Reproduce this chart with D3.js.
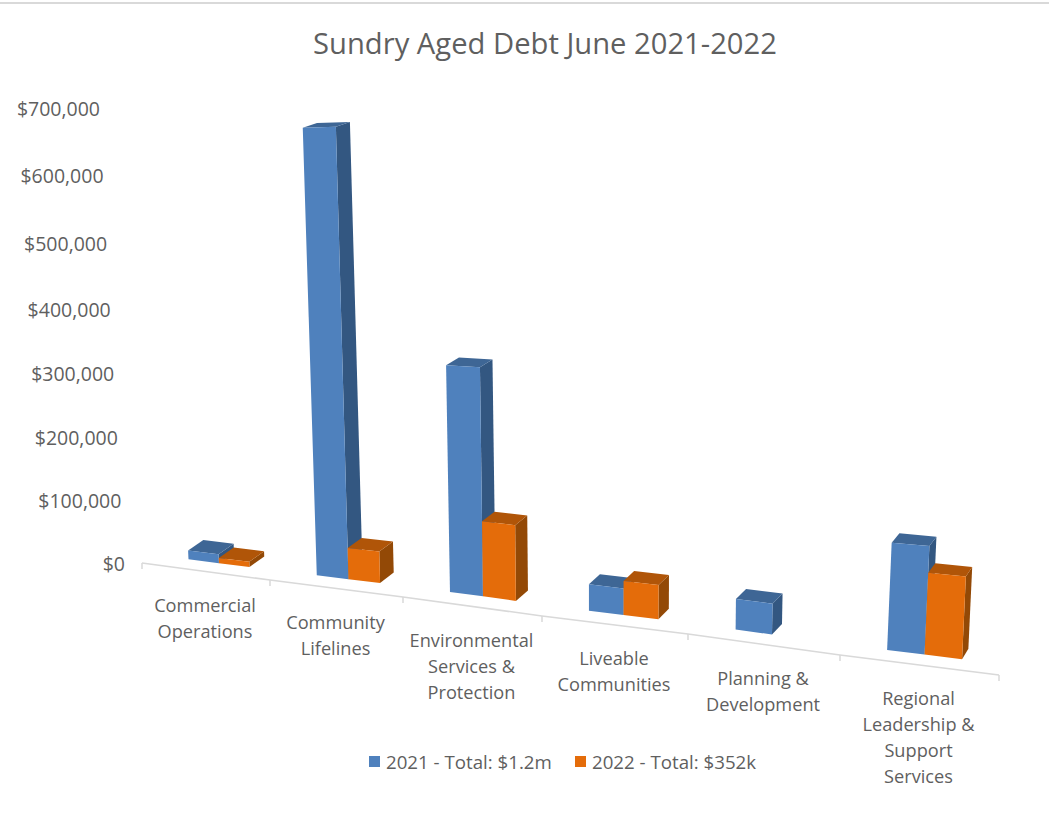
<!DOCTYPE html>
<html>
<head>
<meta charset="utf-8">
<script src="https://cdn.jsdelivr.net/npm/d3@7"></script>
<style>
  html, body { margin: 0; padding: 0; background: #fff; }
  svg { display: block; }
  text { font-family: "Open Sans", "Noto Sans", sans-serif; fill: #5f5f5f; }
</style>
</head>
<body>
<svg id="chart" width="1049" height="817"></svg>
<script>
// Chart content
const titleText = "Sundry Aged Debt June 2021-2022";
const categories = [
  ["Commercial", "Operations"],
  ["Community", "Lifelines"],
  ["Environmental", "Services &", "Protection"],
  ["Liveable", "Communities"],
  ["Planning &", "Development"],
  ["Regional", "Leadership &", "Support", "Services"]
];
const seriesNames = ["2021", "2022"];
const seriesLabels = ["2021 - Total: $1.2m", "2022 - Total: $352k"];
const values2021 = [14000, 668000, 324000, 36000, 40000, 134000];
const values2022 = [8000, 46000, 106000, 46000, null, 101000];
const valueTicks = [0, 100000, 200000, 300000, 400000, 500000, 600000, 700000];

// Face colours per series: front, side, top
const faceColors = {
  "2021": { front: "#4f81bd", side: "#335781", top: "#3e6695" },
  "2022": { front: "#e46c0a", side: "#934906", top: "#b05508" }
};

// Perspective model: u runs along the category axis (0..6), d is bar depth, v is dollars.
const catIndex = d3.range(7);
const axisX = d3.scaleLinear().domain(catIndex).range([142, 270, 403, 542, 688, 840, 999]);
const axisY = d3.scaleLinear().domain(catIndex).range([563, 580, 597, 616, 634, 655, 675]);
const depthX = d3.scaleLinear().domain([0.5, 1.5, 2.5, 3.5, 4.5, 5.5]).range([15, 14, 12.5, 10.5, 10, 7]);
const depthY = -10.5;
const floorInset = 0.95;
const floorLift = d3.scaleLinear().domain([0.5, 1.5, 2.5, 3.5, 4.5, 5.5]).range([-8.2, -9.2, -10, -9.8, -9.8, -10.2]);
const pxPerDollar = d3.scaleLinear().domain([0.5, 1.25, 2.25, 3.25, 4.25, 5.25, 5.75])
  .range([0.00064, 0.00067, 0.00070, 0.00073, 0.00076, 0.00080, 0.00082]);
const leanPerDollar = d3.scaleLinear().domain([0, 1.25, 2.25, 3.25, 4.25, 5.25, 6])
  .range([-30e-6, -21e-6, -12e-6, -1e-6, 8e-6, 34e-6, 40e-6]);
const depthShrink = d3.scaleLinear().domain([0, 1230000]).range([1, 0]);

function project(u, d, v) {
  const x = axisX(u) + (d + floorInset) * depthX(u) + v * leanPerDollar(u);
  const y = axisY(u) + floorLift(u) + d * depthY * depthShrink(v) - v * pxPerDollar(u);
  return [x, y];
}

const barOffset = d3.scaleBand().domain(seriesNames).range([0.25, 0.73]);

const svg = d3.select("#chart");
const polygon = d3.line().curve(d3.curveLinearClosed);

// Frame rule along the top edge
svg.append("line").attr("x1", 0).attr("x2", 1049).attr("y1", 3).attr("y2", 3)
  .attr("stroke", "#d9d9d9").attr("stroke-width", 2);

// Title
svg.append("text").attr("x", 545).attr("y", 54).attr("text-anchor", "middle")
  .attr("font-size", 29.2).text(titleText);

// Value axis labels follow the perspective of the back wall
const valueY = d3.scaleLinear().domain(valueTicks).range([564, 501, 438, 374, 310, 244, 176, 109]);
const valueLabelX = d3.scaleLinear().domain([0, 700000]).range([125, 100]);
const money = d3.format("$,.0f");
svg.append("g").selectAll("text").data(valueTicks).join("text")
  .attr("x", d => valueLabelX(d)).attr("y", d => valueY(d))
  .attr("dy", "0.35em").attr("text-anchor", "end").attr("font-size", 19.5)
  .text(d => money(d));

// Category axis line and ticks
const axisG = svg.append("g").attr("stroke", "#d9d9d9").attr("stroke-width", 1.5).attr("fill", "none");
axisG.append("path").attr("d", d3.line().x(u => axisX(u)).y(u => axisY(u))(catIndex));
axisG.selectAll("line").data(catIndex).join("line")
  .attr("x1", u => axisX(u)).attr("x2", u => axisX(u))
  .attr("y1", u => axisY(u)).attr("y2", u => axisY(u) + 6);

// Category labels, one text element per wrapped line
const labelLine = 26;
const catG = svg.append("g");
categories.forEach((lines, i) => {
  const cx = axisX(i + 0.5) - 1, top = axisY(i + 0.5) + 34;
  catG.selectAll(null).data(lines).join("text")
    .attr("x", cx).attr("y", (_, j) => top + j * labelLine)
    .attr("dy", "0.35em").attr("text-anchor", "middle").attr("font-size", 18.2)
    .text(d => d);
});

// Bars: each one is three faces drawn from its value through the projection
const seriesValues = { "2021": values2021, "2022": values2022 };
const barsG = svg.append("g");
categories.forEach((_, i) => {
  seriesNames.forEach(name => {
    const v = seriesValues[name][i];
    if (v == null) return;
    const u0 = i + barOffset(name), u1 = u0 + barOffset.bandwidth();
    const colors = faceColors[name];
    const faces = [
      { fill: colors.side, pts: [[u1, 0, 0], [u1, 1, 0], [u1, 1, v], [u1, 0, v]] },
      { fill: colors.top, pts: [[u0, 0, v], [u1, 0, v], [u1, 1, v], [u0, 1, v]] },
      { fill: colors.front, pts: [[u0, 0, 0], [u1, 0, 0], [u1, 0, v], [u0, 0, v]] }
    ];
    barsG.append("g").selectAll("path").data(faces).join("path")
      .attr("fill", f => f.fill)
      .attr("d", f => polygon(f.pts.map(p => project(p[0], p[1], p[2]))));
  });
});

// Legend
const legendX = [369, 575];
const legendG = svg.append("g");
seriesNames.forEach((name, i) => {
  legendG.append("rect").attr("x", legendX[i]).attr("y", 756).attr("width", 11).attr("height", 11)
    .attr("fill", faceColors[name].front);
  legendG.append("text").attr("x", legendX[i] + 17).attr("y", 762).attr("dy", "0.35em")
    .attr("font-size", 18.7).text(seriesLabels[i]);
});
</script>
</body>
</html>
